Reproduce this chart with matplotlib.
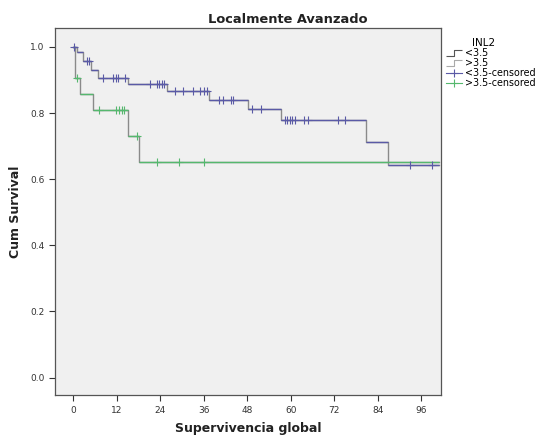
import numpy as np
import matplotlib
matplotlib.use("Agg")
import matplotlib.pyplot as plt
from matplotlib.path import Path
from matplotlib.lines import Line2D

# Kaplan-Meier steps
lo_times = [0, 1.2, 2.8, 4.9, 6.9, 15.2, 26.0, 37.4, 48.2, 57.4, 80.8, 86.7]
lo_surv = [1.0, 0.985, 0.958, 0.93, 0.906, 0.887, 0.867, 0.84, 0.813, 0.779, 0.712, 0.643]
lo_cens = [0.3, 3.7, 4.3, 8.3, 11.0, 11.7, 12.3, 14.3, 21.1, 23.0, 23.7, 24.4, 25.0,
           28.0, 30.3, 33.1, 34.9, 36.1, 37.0, 40.2, 41.2, 43.4, 44.1, 49.2, 51.9,
           58.3, 59.0, 59.7, 60.3, 61.1, 63.8, 64.7, 73.0, 75.1, 93.0, 99.0]
lo_end = 101

hi_times = [0, 0.55, 1.9, 5.4, 15.2, 18.2]
hi_surv = [1.0, 0.905, 0.857, 0.81, 0.73, 0.652]
hi_cens = [1.2, 7.2, 11.8, 12.7, 13.4, 14.0, 17.5, 23.0, 29.2, 36.0]
hi_end = 101

labels = ["<3.5", ">3.5", "<3.5-censored", ">3.5-censored"]
xticks = [0, 12, 24, 36, 48, 60, 72, 84, 96]
yticks = [0.0, 0.2, 0.4, 0.6, 0.8, 1.0]

blue = "#5a5aa6"
green = "#55b86e"
grey = "#8a8a8a"

fig = plt.figure(figsize=(5.42, 4.45), dpi=100)
ax = fig.add_axes([0.1015, 0.1115, 0.7125, 0.8255])
ax.set_facecolor("#f0f0f0")


def km(times, surv, cens, end, col):
    t = list(times) + [end]
    s = list(surv) + [surv[-1]]
    ax.step(t, s, where="post", color=grey, lw=1.0, zorder=2)
    ax.hlines(surv, t[:-1], t[1:], color=col, lw=1.0, zorder=3)
    idx = np.searchsorted(times, cens, side="right") - 1
    cy = np.array(surv)[idx]
    ax.plot(cens, cy, ls="none", marker="+", ms=6, mew=0.8, color=col, zorder=4)


km(lo_times, lo_surv, lo_cens, lo_end, blue)
km(hi_times, hi_surv, hi_cens, hi_end, green)

ax.set_xlim(-5, 101.5)
ax.set_ylim(-0.054, 1.057)
ax.set_xticks(xticks)
ax.set_yticks(yticks)
ax.set_yticklabels(["%.1f" % v for v in yticks])
ax.tick_params(labelsize=6.5, colors="#333333", length=4, width=0.8)
for sp in ax.spines.values():
    sp.set_color("#555555")
    sp.set_linewidth(0.9)

# title is centred on the whole chart (plot + legend), as in the original
fig.text(0.531, 0.949, "Localmente Avanzado", fontsize=9.4, fontweight="bold",
         color="#222222", ha="center", va="baseline")
ax.set_xlabel("Supervivencia global", fontsize=9, fontweight="bold", color="#222222", labelpad=5)
ax.set_ylabel("Cum Survival", fontsize=9, fontweight="bold", color="#222222", labelpad=6)

# legend with step-shaped icons
step_marker = Path([(-1, -0.4), (0, -0.4), (0, 0.4), (1, 0.4)],
                   [Path.MOVETO, Path.LINETO, Path.LINETO, Path.LINETO])
handles = [
    Line2D([], [], ls="none", marker=step_marker, ms=11, mew=0.8, mec="#555555", mfc="none"),
    Line2D([], [], ls="none", marker=step_marker, ms=11, mew=0.8, mec="#aaaaaa", mfc="none"),
    Line2D([], [], color=blue, lw=0.8, marker="+", ms=6, mew=0.8),
    Line2D([], [], color=green, lw=0.8, marker="+", ms=6, mew=0.8),
]
leg = fig.legend(handles, labels, title="INL2", loc="upper left",
                 bbox_to_anchor=(0.81, 0.93), frameon=False, fontsize=6.9,
                 title_fontsize=7.5, handlelength=1.7, handletextpad=0.3,
                 labelspacing=0.0, borderpad=0.2, markerfirst=True)
leg._legend_box.align = "left"
leg.get_title().set_position((26, 0))

fig.savefig("out.png", dpi=100)
